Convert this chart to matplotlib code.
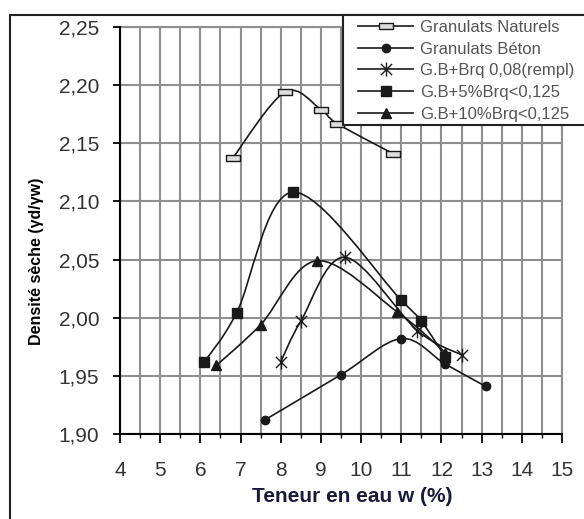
import matplotlib
matplotlib.use("Agg")
import matplotlib.pyplot as plt
import numpy as np
from matplotlib.lines import Line2D
from matplotlib.patches import PathPatch, Rectangle
from matplotlib.path import Path
from matplotlib.ticker import FuncFormatter, MultipleLocator

plt.rcParams["font.family"] = ["Liberation Sans", "DejaVu Sans"]

# Teneur en eau w (%) -> densité sèche
nat_w = [6.8, 8.1, 9.0, 9.4, 10.8]
nat_d = [2.137, 2.194, 2.179, 2.167, 2.141]

beton_w = [7.6, 9.5, 11.0, 12.1, 13.1]
beton_d = [1.912, 1.951, 1.982, 1.960, 1.941]

brq008_w = [8.0, 8.5, 9.6, 11.4, 12.5]
brq008_d = [1.962, 1.997, 2.052, 1.989, 1.968]

brq5_w = [6.1, 6.9, 8.3, 11.0, 11.5, 12.1]
brq5_d = [1.962, 2.004, 2.108, 2.015, 1.997, 1.966]

brq10_w = [6.4, 7.5, 8.9, 10.9, 12.1]
brq10_d = [1.959, 1.994, 2.049, 2.005, 1.970]

series_labels = [
    "Granulats Naturels",
    "Granulats Béton",
    "G.B+Brq 0,08(rempl)",
    "G.B+5%Brq<0,125",
    "G.B+10%Brq<0,125",
]
x_ticks = list(range(4, 16))
y_ticks = [1.90, 1.95, 2.00, 2.05, 2.10, 2.15, 2.20, 2.25]

W, H = 584, 519
LINE = "#1a1a1a"
GRID = "#8f8f8f"

dash_marker = Path(
    [(-1, -0.45), (1, -0.45), (1, 0.45), (-1, 0.45), (-1, -0.45)],
    [Path.MOVETO, Path.LINETO, Path.LINETO, Path.LINETO, Path.CLOSEPOLY],
)
star_marker = Path(
    [(-1, -1), (1, 1), (-1, 1), (1, -1), (0, -1.25), (0, 1.25)],
    [Path.MOVETO, Path.LINETO, Path.MOVETO, Path.LINETO, Path.MOVETO, Path.LINETO],
)

styles = [
    dict(marker=dash_marker, ms=10, mfc="#dddddd", mec=LINE, mew=1.0),
    dict(marker="o", ms=6, mfc=LINE, mec=LINE),
    dict(marker=star_marker, ms=10, mfc="none", mec=LINE, mew=1.0),
    dict(marker="s", ms=7, mfc=LINE, mec=LINE),
    dict(marker="^", ms=7, mfc=LINE, mec=LINE),
]


def smooth_path(xs, ys):
    # courbe lissée façon Excel (Bézier passant par les points)
    pts = np.column_stack([xs, ys]).astype(float)
    n = len(pts)
    verts = [pts[0]]
    codes = [Path.MOVETO]
    for i in range(n - 1):
        p0 = pts[max(i - 1, 0)]
        p1 = pts[i]
        p2 = pts[i + 1]
        p3 = pts[min(i + 2, n - 1)]
        verts += [p1 + (p2 - p0) / 6, p2 - (p3 - p1) / 6, p2]
        codes += [Path.CURVE4] * 3
    return Path(verts, codes)


fig = plt.figure(figsize=(W / 100, H / 100), dpi=100)
ax = fig.add_axes([120 / W, 1 - 434 / H, 442 / W, 407 / H])

all_series = [
    (nat_w, nat_d),
    (beton_w, beton_d),
    (brq008_w, brq008_d),
    (brq5_w, brq5_d),
    (brq10_w, brq10_d),
]
handles = []
for (xs, ys), st, label in zip(all_series, styles, series_labels):
    ax.add_patch(PathPatch(smooth_path(xs, ys), facecolor="none", edgecolor=LINE, lw=1.2, zorder=3))
    ax.plot(xs, ys, linestyle="none", zorder=4, **st)
    handles.append(Line2D([], [], color=LINE, lw=1.2, label=label, **st))

ax.set_xlim(4, 15)
ax.set_ylim(1.90, 2.25)
ax.set_xticks(x_ticks)
ax.xaxis.set_minor_locator(MultipleLocator(0.5))
ax.set_yticks(y_ticks)
ax.yaxis.set_major_formatter(FuncFormatter(lambda v, _: f"{v:.2f}".replace(".", ",")))

ax.grid(True, which="both", axis="x", color=GRID, lw=1.5)
ax.grid(True, which="major", axis="y", color=GRID, lw=1.5)
ax.set_axisbelow(True)

for side in ("left", "bottom"):
    ax.spines[side].set_color("black")
    ax.spines[side].set_linewidth(1.5)
    ax.spines[side].set_zorder(5)
for side in ("top", "right"):
    ax.spines[side].set_color(GRID)
    ax.spines[side].set_linewidth(1.5)

ax.tick_params(axis="x", which="major", direction="out", length=6.5, width=1.3,
               pad=13, labelsize=15, labelcolor="#333333")
ax.tick_params(axis="x", which="minor", direction="out", length=3, width=1.0)
ax.tick_params(axis="y", direction="out", length=5, width=1.3,
               pad=10, labelsize=15, labelcolor="#333333")

fig.text(37 / W, 1 - 261 / H, "Densité sèche (γd/γw)", rotation=90,
         ha="center", va="center", fontsize=11.5, fontweight="bold")
fig.text(352 / W, 1 - 497 / H, "Teneur en eau w (%)",
         ha="center", va="center", fontsize=15, fontweight="bold", color="#1a1a3a")

# cadre de la zone de graphique
fig.add_artist(Rectangle((10 / W, -0.2), 1.2, 1 - 15 / H + 0.2, transform=fig.transFigure,
                         facecolor="none", edgecolor="#222222", lw=1.5, zorder=1))
# cadre de la légende
fig.add_artist(Rectangle((343 / W, 1 - 125 / H), 0.6, 110 / H, transform=fig.transFigure,
                         facecolor="white", edgecolor="#222222", lw=1.5, zorder=6))

fig.legend(handles=handles, loc="upper left", bbox_to_anchor=(358 / W, 1 - 20 / H),
           frameon=False, borderaxespad=0, borderpad=0, fontsize=12,
           handlelength=3.3, handletextpad=0.4, labelspacing=0.4,
           labelcolor="#555555").set_zorder(7)

fig.savefig("out.png", dpi=100)
